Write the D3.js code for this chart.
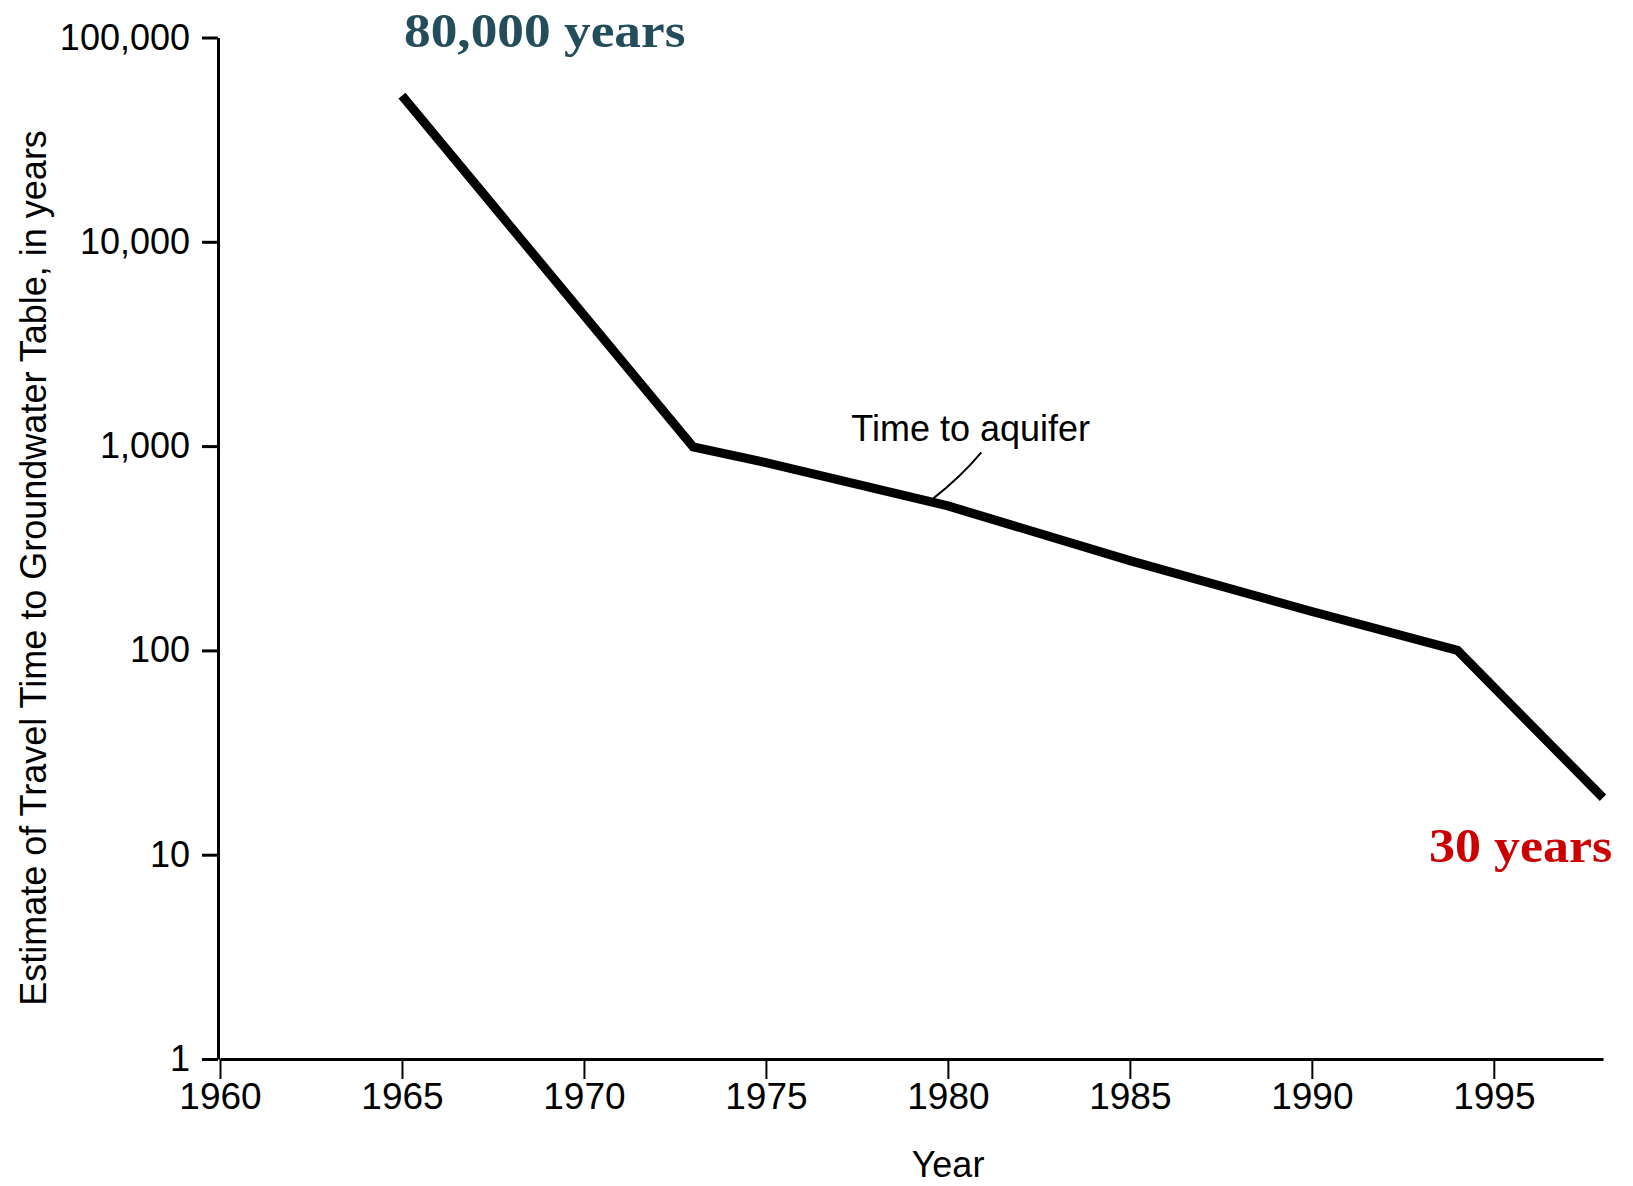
<!DOCTYPE html>
<html>
<head>
<meta charset="utf-8">
<script src="https://cdn.jsdelivr.net/npm/d3@7"></script>
<style>
  html, body { margin: 0; padding: 0; background: #fff; }
  svg { display: block; }
  .axis text { font-family: "Liberation Sans", Arial, sans-serif; fill: #000; }
  .axis path, .axis line { stroke: #000; }
</style>
</head>
<body>
<svg id="chart" width="1633" height="1186"></svg>
<script>
// ---- data ----
const years = [1965, 1973, 1975, 1980, 1985, 1990, 1994, 1998];
const travelTime = [52000, 990, 830, 510, 275, 155, 100, 19];
const yTickValues = [1, 10, 100, 1000, 10000, 100000];
const xTickValues = [1960, 1965, 1970, 1975, 1980, 1985, 1990, 1995];
const startLabel = "80,000 years";
const endLabel = "30 years";
const seriesLabel = "Time to aquifer";
const xTitle = "Year";
const yTitle = "Estimate of Travel Time to Groundwater Table, in years";

const svg = d3.select("#chart");

const x = d3.scaleLinear().domain([1960, 1998]).range([220, 1603]);
const y = d3.scaleLog().domain([1, 100000]).range([1059, 37.5]);

// y axis
const yAxis = svg.append("g")
  .attr("class", "axis")
  .attr("transform", "translate(218,0)")
  .call(d3.axisLeft(y).tickValues(yTickValues).tickFormat(d3.format(","))
    .tickSizeInner(16).tickSizeOuter(0).tickPadding(12));
yAxis.selectAll("text").style("font-size", "36px");
yAxis.select(".domain").attr("stroke-width", 3);
yAxis.selectAll(".tick line").attr("stroke-width", 3);

// x axis
const xAxis = svg.append("g")
  .attr("class", "axis")
  .attr("transform", "translate(0,1059)")
  .call(d3.axisBottom(x).tickValues(xTickValues).tickFormat(d3.format("d"))
    .tickSizeInner(20).tickSizeOuter(0).tickPadding(4));
xAxis.selectAll("text").style("font-size", "37px");
xAxis.select(".domain").attr("stroke-width", 3);
xAxis.selectAll(".tick line").attr("stroke-width", 2);

// line
const data = years.map((yr, i) => ({ year: yr, value: travelTime[i] }));
const line = d3.line().x(d => x(d.year)).y(d => y(d.value));
svg.append("path")
  .datum(data)
  .attr("d", line)
  .attr("fill", "none")
  .attr("stroke", "#000")
  .attr("stroke-width", 9)
  .attr("stroke-linejoin", "miter");

// annotation leader
const anchorYear = 1979.6;
const segA = data[2], segB = data[3];
const t = (anchorYear - segA.year) / (segB.year - segA.year);
const anchorVal = Math.pow(10, Math.log10(segA.value) + t * (Math.log10(segB.value) - Math.log10(segA.value)));
const ax = x(anchorYear), ay = y(anchorVal) - 4;
svg.append("path")
  .attr("d", `M${ax},${ay} Q${ax + 28},${ay - 22} ${ax + 48},${ay - 46}`)
  .attr("fill", "none")
  .attr("stroke", "#000")
  .attr("stroke-width", 2);
svg.append("text")
  .attr("x", ax - 82).attr("y", ay - 57)
  .style("font-family", "'Liberation Sans', Arial, sans-serif")
  .style("font-size", "36px")
  .text(seriesLabel);

// titles
svg.append("text")
  .attr("x", 948).attr("y", 1177)
  .attr("text-anchor", "middle")
  .style("font-family", "'Liberation Sans', Arial, sans-serif")
  .style("font-size", "36px")
  .text(xTitle);
svg.append("text")
  .attr("transform", "translate(46,568) rotate(-90)")
  .attr("text-anchor", "middle")
  .style("font-family", "'Liberation Sans', Arial, sans-serif")
  .style("font-size", "36px")
  .text(yTitle);

// highlight labels
svg.append("text")
  .attr("transform", "translate(404,47) scale(1.1,1)")
  .style("font-family", "'Liberation Serif', 'Times New Roman', serif")
  .style("font-weight", "bold")
  .style("font-size", "48.5px")
  .attr("fill", "#244d5c")
  .text(startLabel);
svg.append("text")
  .attr("transform", "translate(1429,862) scale(1.06,1)")
  .style("font-family", "'Liberation Serif', 'Times New Roman', serif")
  .style("font-weight", "bold")
  .style("font-size", "49px")
  .attr("fill", "#cc0000")
  .text(endLabel);
</script>
</body>
</html>
